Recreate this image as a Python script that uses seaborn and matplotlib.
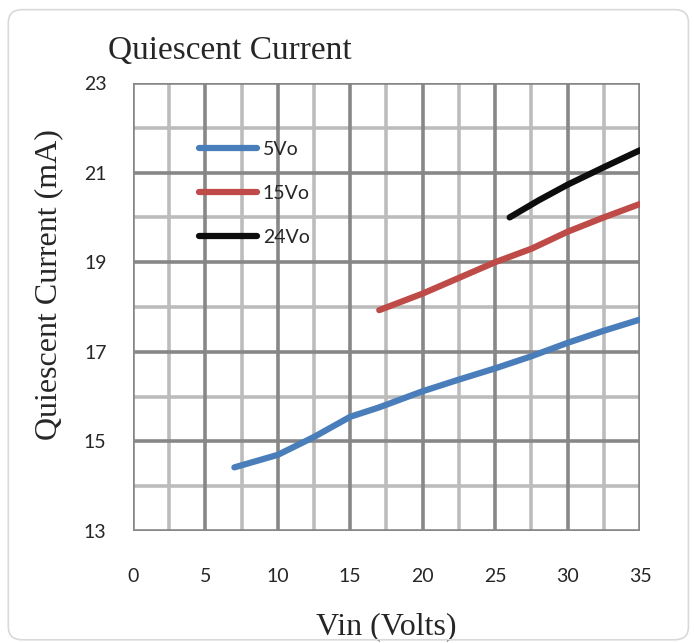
import pandas as pd
import numpy as np
import seaborn as sns
import matplotlib.pyplot as plt
from matplotlib.patches import FancyBboxPatch

# Data
vin_5 = [7, 10, 12.5, 15, 17, 20, 22.5, 25, 27.5, 30, 32.5, 35]
iq_5 = [14.42, 14.7, 15.1, 15.55, 15.76, 16.12, 16.38, 16.63, 16.9, 17.2, 17.47, 17.72]

vin_15 = [17, 20, 22.5, 25, 27.5, 30, 32.5, 35]
iq_15 = [17.93, 18.3, 18.65, 19.0, 19.3, 19.68, 20.0, 20.3]

vin_24 = [26, 28, 30, 32.5, 35]
iq_24 = [20.0, 20.38, 20.73, 21.12, 21.5]

series_names = ['5Vo', '15Vo', '24Vo']
colors = {'5Vo': '#4a7ebb', '15Vo': '#be4b48', '24Vo': '#0d0d0d'}

df = pd.concat([
    pd.DataFrame({'Vin': vin_5, 'Iq': iq_5, 'Series': '5Vo'}),
    pd.DataFrame({'Vin': vin_15, 'Iq': iq_15, 'Series': '15Vo'}),
    pd.DataFrame({'Vin': vin_24, 'Iq': iq_24, 'Series': '24Vo'}),
])

sns.set_style('white')
plt.rcParams['font.family'] = ['Lato', 'DejaVu Sans']

fig = plt.figure(figsize=(6.94, 6.43), dpi=100)
ax = fig.add_axes([0.1916, 0.1742, 0.7306, 0.6967])

# light outer frame like the spreadsheet chart area
fig.patches.append(FancyBboxPatch((0.012, 0.005), 0.98, 0.98, boxstyle='round,pad=0,rounding_size=0.02',
                                  transform=fig.transFigure, fill=False, edgecolor='#d9d9d9', lw=1.2))

# grid: light minor lines, dark major lines
for xv in np.arange(2.5, 35, 5):
    ax.axvline(xv, color='#bcbcbc', lw=2.6, zorder=0)
for yv in np.arange(14, 23, 2):
    ax.axhline(yv, color='#bcbcbc', lw=2.6, zorder=0)
for xv in np.arange(0, 36, 5):
    ax.axvline(xv, color='#878787', lw=2.6, zorder=1)
for yv in np.arange(13, 24, 2):
    ax.axhline(yv, color='#878787', lw=2.6, zorder=1)

sns.lineplot(data=df, x='Vin', y='Iq', hue='Series', hue_order=series_names, palette=colors,
             linewidth=4.5, ax=ax, sort=False, estimator=None, zorder=3)
for line in ax.lines:
    line.set_solid_capstyle('round')
    line.set_solid_joinstyle('round')

ax.set_xlim(0, 35)
ax.set_ylim(13, 23)
ax.set_xticks(np.arange(0, 36, 5))
ax.set_yticks(np.arange(13, 24, 2))
ax.tick_params(axis='x', labelsize=14, pad=27, length=0)
ax.tick_params(axis='y', labelsize=14, pad=19, length=0)
for s in ax.spines.values():
    s.set_visible(False)

ax.set_xlabel('Vin (Volts)', family='Liberation Serif', fontsize=23, labelpad=19)
ax.set_ylabel('Quiescent Current (mA)', family='Liberation Serif', fontsize=23)
ax.yaxis.set_label_coords(-0.137, 0.55)
ax.set_title('Quiescent Current', family='Liberation Serif', fontsize=24, loc='left', x=-0.05, pad=17)

handles, labels = ax.get_legend_handles_labels()
leg = ax.legend(handles, labels, loc='upper left', bbox_to_anchor=(0.095, 0.91), frameon=False,
                fontsize=14, handlelength=3.0, handletextpad=0.3, labelspacing=1.4)
for h in leg.get_lines():
    h.set_linewidth(4.5)
    h.set_solid_capstyle('round')

fig.savefig('out.png', dpi=100)
